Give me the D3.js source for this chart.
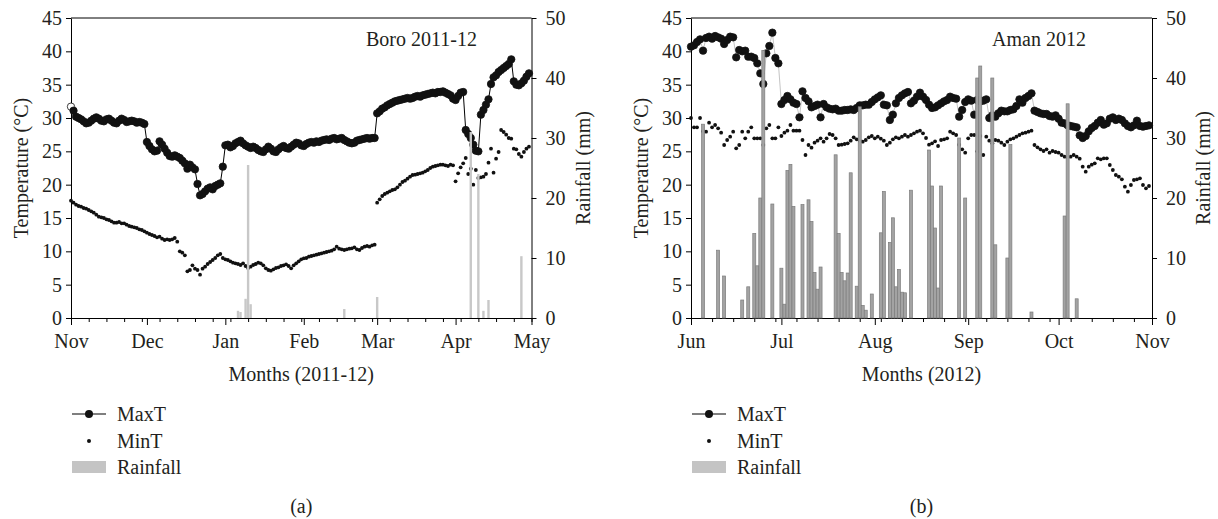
<!DOCTYPE html>
<html>
<head>
<meta charset="utf-8">
<script src="https://cdn.jsdelivr.net/npm/d3@7"></script>
<style>
  body { margin: 0; background: #fff; }
  svg text { font-family: "Liberation Serif", "DejaVu Serif", serif; fill: #231f20; }
</style>
</head>
<body>
<svg id="chart" width="1218" height="519"></svg>
<script>
// ---- Boro 2011-12: one value per day from 1 Nov 2011 ----
const boroStart = "2011-11-01";
const boroEnd = "2012-05-01";
const boroMaxT = [
  31.7, 31.1, 30.2, 30.0, 29.8, 29.5, 29.2, 29.3, 29.6, 29.9, 30.1, 29.9, 29.6, 29.5, 29.8,
  29.9, 29.6, 29.3, 29.2, 29.6, 29.9, 29.7, 29.4, 29.5, 29.6, 29.5, 29.3, 29.4, 29.3, 29.1,
  26.4, 25.8, 25.3, 25.0, 25.1, 26.5, 26.0, 25.4, 24.8, 24.3, 24.2, 24.4, 24.2, 24.0, 23.6,
  23.2, 22.4, 23.0, 22.6, 22.3, 20.1, 18.4, 18.6, 19.0, 19.4, 19.6, 19.3, 19.8, 20.0, 20.2, 22.7,
  25.9, 26.0, 25.6, 25.8, 26.2, 26.4, 26.6, 26.2, 25.9, 25.7, 25.5, 25.7, 25.5, 25.2, 25.0,
  24.9, 25.3, 25.7, 25.4, 25.0, 24.9, 25.3, 25.6, 25.8, 25.5, 25.4, 25.7, 26.0, 26.3, 26.2,
  25.9, 25.8, 26.1, 26.3, 26.4, 26.3, 26.5, 26.4, 26.6, 26.7, 26.8, 26.7, 26.9, 27.0, 26.8,
  26.9, 27.0, 26.7, 26.5, 26.3, 26.2, 26.3, 26.6, 26.7, 26.8, 26.9, 27.0, 26.9, 27.0, 27.0,
  30.7, 31.0, 31.4, 31.6, 31.9, 32.1, 32.3, 32.5, 32.6, 32.7, 32.8, 32.9, 33.0, 32.9, 33.0,
  33.2, 33.3, 33.2, 33.4, 33.5, 33.6, 33.7, 33.8, 33.7, 33.9, 33.9, 34.0, 33.8, 33.6, 33.4, 32.9,
  32.7, 33.3, 33.8, 33.9, 28.2, 27.6, 27.0, 26.0, 25.1, 25.0, 30.5, 31.2, 32.0, 32.8, 35.1,
  36.1, 36.4, 36.9, 37.2, 37.5, 37.8, 38.1, 38.8, 35.5, 35.0, 34.9, 35.2, 35.6, 36.2, 36.7
];
const boroMinT = [
  17.6, 17.3, 17.0, 16.8, 16.7, 16.5, 16.4, 16.2, 16.0, 15.8, 15.5, 15.2, 15.1, 15.0, 14.8,
  14.7, 14.5, 14.3, 14.3, 14.4, 14.2, 14.2, 14.0, 13.8, 13.7, 13.6, 13.5, 13.3, 13.2, 13.0,
  12.8, 12.6, 12.45, 12.3, 12.1, 12.2, 11.9, 11.7, 11.8, 11.7, 11.8, 12.0, 11.45, 10.0, 9.8,
  9.4, 7.0, 7.2, 7.9, 7.4, 7.2, 6.5, 7.4, 7.7, 8.1, 8.4, 8.7, 9.0, 9.4, 9.6,
  9.0, 8.8, 8.7, 8.5, 8.3, 8.2, 8.1, 7.95, 8.2, 7.8, 7.5, 7.7, 7.95, 8.1, 8.3,
  8.2, 7.9, 7.45, 7.2, 7.1, 7.3, 7.5, 7.6, 7.8, 7.9, 8.05, 7.8, 7.45, 7.9, 8.2,
  8.5, 8.8, 8.95, 9.0, 9.2, 9.3, 9.4, 9.5, 9.6, 9.7, 9.8, 9.9, 10.0, 10.1, 10.3,
  10.7, 10.4, 10.3, 10.2, 10.3, 10.4, 10.45, 10.6, 10.3, 10.2, 10.5, 10.7, 10.8, 10.7, 10.9, 11.0,
  17.3, 17.8, 18.3, 18.6, 18.8, 19.0, 19.2, 19.3, 19.6, 20.0, 20.4, 20.6, 20.9, 21.2, 21.45,
  21.5, 21.6, 21.7, 21.8, 22.0, 22.2, 22.5, 22.7, 22.8, 22.9, 23.0, 23.0, 22.9, 22.8, 23.0, 22.9,
  20.5, 21.7, 22.6, 23.2, 24.0, 21.6, 22.4, 20.0, 22.2, 21.0, 21.1, 21.2, 21.6, 23.3, 25.4,
  21.8, 23.9, 24.9, 28.2, 27.9, 27.5, 27.0, 26.9, 25.4, 25.3, 24.6, 24.2, 24.9, 25.4, 25.7
];
const boroRainDates = ["2012-01-06", "2012-01-07", "2012-01-09", "2012-01-10", "2012-01-11",
  "2012-02-17", "2012-03-01", "2012-04-07", "2012-04-10", "2012-04-12", "2012-04-14", "2012-04-27"];
const boroRain = [1.2, 1.0, 3.2, 25.5, 2.3, 1.5, 3.5, 31.0, 24.0, 1.2, 3.0, 10.3];

// ---- Aman 2012: one value per day from 1 Jun 2012 ----
const amanStart = "2012-06-01";
const amanEnd = "2012-11-01";
const amanMaxT = [
  40.7, 40.9, 41.4, 41.8, 40.1, 42.0, 42.2, 41.9, 42.3, 42.1, 41.9, 41.1, 41.7, 42.2, 42.1,
  39.1, 40.2, 40.0, 40.1, 39.2, 39.2, 39.0, 38.2, 36.7, 35.1, 39.7, 40.8, 42.8, 39.0, 38.2,
  32.1, 32.7, 33.3, 32.8, 32.3, 32.1, 30.1, 34.0, 33.0, 32.5, 31.6, 31.8, 32.0, 30.1, 32.1,
  31.6, 31.4, 31.3, 31.4, 31.1, 31.1, 31.2, 31.2, 31.3, 31.2, 31.5, 31.9, 31.9, 32.0, 32.0, 32.4,
  32.8, 33.1, 33.4, 32.0, 31.9, 29.7, 30.5, 32.2, 33.0, 33.4, 33.7, 33.9, 32.2, 32.6, 33.2,
  33.8, 33.2, 32.7, 32.0, 31.5, 31.6, 31.9, 32.2, 32.5, 32.7, 33.2, 33.0, 32.9, 30.2, 31.2,
  32.4, 32.8, 32.6, 30.5, 32.7, 32.5, 32.6, 32.8, 30.0, 30.4, 30.2, 30.7, 31.1, 31.0, 31.0,
  31.2, 31.3, 31.8, 32.8, 32.3, 33.0, 33.3, 33.7, 31.1, 30.9, 30.7, 30.6, 30.6, 30.3, 30.2,
  30.4, 29.9, 29.3, 29.2, 28.9, 28.8, 28.7, 28.6, 27.4, 27.0, 27.3, 28.0, 28.5, 28.8, 29.3,
  29.7, 29.0, 29.2, 29.9, 30.1, 29.7, 29.9, 29.7, 29.2, 28.8, 28.6, 28.9, 29.6, 28.8, 28.7,
  28.8, 28.9
];
const amanMinT = [
  30.0, 28.6, 28.6, 30.0, 28.0, 27.95, 29.3, 28.6, 28.95, 28.45, 27.8, 25.95, 26.7, 27.2, 27.95,
  25.45, 25.95, 27.95, 26.95, 27.95, 28.6, 26.95, 26.95, 26.95, 25.95, 28.45, 28.95, 26.95, 26.95, 28.6,
  27.3, 27.8, 28.1, 28.95, 28.1, 28.1, 28.1, 26.7, 24.45, 25.95, 25.55, 26.3, 26.6, 26.95, 26.45,
  26.95, 27.6, 27.45, 26.95, 25.95, 26.0, 26.1, 26.2, 26.6, 27.1, 26.8, 26.6, 26.45, 26.7, 27.1, 27.3,
  26.95, 27.2, 26.9, 26.6, 25.95, 26.3, 26.8, 27.1, 26.95, 27.2, 27.45, 27.2, 27.45, 27.7, 27.95,
  28.1, 27.7, 27.0, 26.0, 26.2, 26.5, 25.8, 26.7, 26.8, 26.95, 27.95, 27.7, 27.45, 26.0, 25.3,
  24.8, 26.95, 27.45, 27.45, 25.0, 27.3, 24.45, 27.2, 26.6, 26.2, 26.7, 26.6, 26.3, 25.95, 26.45,
  26.8, 26.95, 27.2, 27.45, 27.7, 27.8, 27.95, 28.1, 25.95, 25.6, 25.3, 25.05, 25.3, 24.8, 25.05,
  24.9, 24.8, 24.45, 24.2, 24.1, 24.2, 24.45, 24.2, 23.9, 22.7, 21.95, 22.7, 23.0, 23.2, 23.95,
  23.8, 23.95, 23.95, 22.95, 22.2, 21.45, 21.2, 20.8, 19.7, 18.95, 19.95, 20.7, 20.8, 20.95, 19.95,
  19.45, 19.8
];
const amanRainDates = [
  "2012-06-05", "2012-06-10", "2012-06-12", "2012-06-18", "2012-06-20", "2012-06-22", "2012-06-23",
  "2012-06-24", "2012-06-25", "2012-06-28", "2012-07-01", "2012-07-02", "2012-07-03", "2012-07-04",
  "2012-07-05", "2012-07-08", "2012-07-10", "2012-07-11", "2012-07-12", "2012-07-13", "2012-07-14",
  "2012-07-19", "2012-07-20", "2012-07-21", "2012-07-22", "2012-07-23", "2012-07-24", "2012-07-26",
  "2012-07-27", "2012-07-28", "2012-07-29", "2012-07-31", "2012-08-03", "2012-08-04", "2012-08-06",
  "2012-08-07", "2012-08-08", "2012-08-09", "2012-08-10", "2012-08-11", "2012-08-13", "2012-08-19",
  "2012-08-20", "2012-08-21", "2012-08-22", "2012-08-23", "2012-08-29", "2012-08-31", "2012-09-04",
  "2012-09-05", "2012-09-09", "2012-09-10", "2012-09-14", "2012-09-15", "2012-09-22", "2012-10-03",
  "2012-10-04", "2012-10-07"
];
const amanRain = [
  32.3, 11.3, 7.0, 3.0, 5.2, 14.1, 8.7,
  20.0, 44.6, 19.0, 8.3, 2.3, 24.6, 25.6,
  18.6, 18.9, 19.7, 16.1, 7.6, 4.8, 8.5,
  27.2, 14.1, 7.6, 6.2, 7.5, 24.2, 5.3,
  35.2, 2.1, 1.3, 4.0, 14.2, 21.1, 12.6,
  16.7, 5.2, 8.1, 4.3, 4.2, 21.3, 28.0,
  22.0, 15.0, 5.0, 22.0, 30.0, 20.0, 40.0,
  42.0, 40.0, 12.2, 10.0, 28.9, 1.0, 17.0,
  35.7, 3.2
];

const tempTicks = [0, 5, 10, 15, 20, 25, 30, 35, 40, 45];
const rainTicks = [0, 10, 20, 30, 40, 50];

const svg = d3.select("#chart");
const plotTop = 18, plotBottom = 318;
const parse = d3.utcParse("%Y-%m-%d");
const FONT = 20;

function drawPanel(p) {
  const g = svg.append("g");
  const start = parse(p.start), end = parse(p.end);
  const nDays = d3.utcDay.count(start, end);
  const day = i => d3.utcDay.offset(start, i);

  const x = d3.scaleUtc().domain([start, end]).range([p.left, p.right]);
  const yT = d3.scaleLinear().domain([0, 45]).range([plotBottom, plotTop]);
  const yR = d3.scaleLinear().domain([0, 50]).range([plotBottom, plotTop]);

  // axes: weekly minor ticks, month ticks with labels
  const months = d3.utcMonth.range(start, d3.utcDay.offset(end, 1));
  const weeks = d3.range(0, nDays + 1, 7).map(day);

  g.append("g").attr("transform", `translate(0,${plotBottom})`)
    .call(d3.axisBottom(x).tickValues(weeks).tickSize(4).tickSizeOuter(0).tickFormat(""));
  g.append("g").attr("transform", `translate(0,${plotBottom})`)
    .call(d3.axisBottom(x).tickValues(months).tickSize(7).tickSizeOuter(0)
      .tickPadding(9).tickFormat(d3.utcFormat("%b")));
  g.append("g").attr("transform", `translate(${p.left},0)`)
    .call(d3.axisLeft(yT).tickValues(tempTicks).tickSize(5).tickSizeOuter(0).tickPadding(4));
  g.append("g").attr("transform", `translate(${p.right},0)`)
    .call(d3.axisRight(yR).tickValues(rainTicks).tickSize(5).tickSizeOuter(0).tickPadding(9));
  g.append("line")
    .attr("x1", p.left).attr("x2", p.right).attr("y1", plotTop).attr("y2", plotTop)
    .attr("stroke", "#000");

  g.selectAll(".domain").attr("stroke", "#000");
  g.selectAll(".tick line").attr("stroke", "#000");
  g.selectAll(".tick text").attr("font-size", FONT).attr("font-family", null);

  // axis titles
  g.append("text")
    .attr("transform", `translate(${p.left - 50},${(plotTop + plotBottom) / 2}) rotate(-90)`)
    .attr("text-anchor", "middle").attr("dy", "0.35em").attr("font-size", FONT)
    .text("Temperature (°C)");
  g.append("text")
    .attr("transform", `translate(${p.right + 51},${(plotTop + plotBottom) / 2}) rotate(-90)`)
    .attr("text-anchor", "middle").attr("dy", "0.35em").attr("font-size", FONT)
    .text("Rainfall (mm)");
  g.append("text")
    .attr("x", (p.left + p.right) / 2).attr("y", 381)
    .attr("text-anchor", "middle").attr("font-size", FONT)
    .text(p.xTitle);
  g.append("text")
    .attr("x", p.labelX).attr("y", 46).attr("font-size", FONT)
    .text(p.label);
  g.append("text")
    .attr("x", (p.left + p.right) / 2).attr("y", 513)
    .attr("text-anchor", "middle").attr("font-size", FONT)
    .text(p.tag);

  // MaxT line + markers
  g.append("path")
    .datum(p.maxT)
    .attr("fill", "none")
    .attr("stroke", p.lineColor)
    .attr("stroke-width", 1)
    .attr("d", d3.line().x((d, i) => x(day(i))).y(d => yT(d)));
  g.selectAll(".maxt").data(p.maxT).join("circle")
    .attr("cx", (d, i) => x(day(i)))
    .attr("cy", d => yT(d))
    .attr("r", 3.7)
    .attr("fill", (d, i) => (p.hollowFirst && i === 0) ? "#fff" : "#111")
    .attr("stroke", "#111")
    .attr("stroke-width", 0.8);

  // MinT dots
  g.selectAll(".mint").data(p.minT).join("circle")
    .attr("cx", (d, i) => x(day(i)))
    .attr("cy", d => yT(d))
    .attr("r", 1.9)
    .attr("fill", "#111");

  // rainfall bars
  g.selectAll(".rain").data(p.rain).join("rect")
    .attr("x", (d, i) => x(parse(p.rainDates[i])) - p.barW / 2)
    .attr("y", d => yR(d))
    .attr("width", p.barW)
    .attr("height", d => plotBottom - yR(d))
    .attr("fill", p.barFill)
    .attr("stroke", p.barStroke)
    .attr("stroke-width", 0.7);

  // legend
  const lx = p.left + 1, lw = 34, rows = [414, 441, 467];
  g.append("line").attr("x1", lx).attr("x2", lx + lw).attr("y1", rows[0]).attr("y2", rows[0])
    .attr("stroke", "#000").attr("stroke-width", 1.2);
  g.append("circle").attr("cx", lx + lw / 2).attr("cy", rows[0]).attr("r", 4).attr("fill", "#111");
  g.append("circle").attr("cx", lx + lw / 2).attr("cy", rows[1]).attr("r", 2).attr("fill", "#111");
  g.append("rect").attr("x", lx).attr("y", rows[2] - 6).attr("width", lw).attr("height", 12)
    .attr("fill", "#c4c4c4");
  ["MaxT", "MinT", "Rainfall"].forEach((t, i) => {
    g.append("text").attr("x", lx + lw + 11).attr("y", rows[i]).attr("dy", "0.35em")
      .attr("font-size", FONT).text(t);
  });
}

drawPanel({
  left: 71, right: 531.5, start: boroStart, end: boroEnd,
  maxT: boroMaxT, minT: boroMinT, rain: boroRain, rainDates: boroRainDates,
  label: "Boro 2011-12", labelX: 366, xTitle: "Months (2011-12)", tag: "(a)",
  lineColor: "#000", hollowFirst: true, barW: 2.4, barFill: "#c8c8c8", barStroke: "none"
});
drawPanel({
  left: 691, right: 1152, start: amanStart, end: amanEnd,
  maxT: amanMaxT, minT: amanMinT, rain: amanRain, rainDates: amanRainDates,
  label: "Aman 2012", labelX: 992, xTitle: "Months (2012)", tag: "(b)",
  lineColor: "#c4c4c4", hollowFirst: false, barW: 3, barFill: "#a3a3a3", barStroke: "#7c7c7c"
});
</script>
</body>
</html>
